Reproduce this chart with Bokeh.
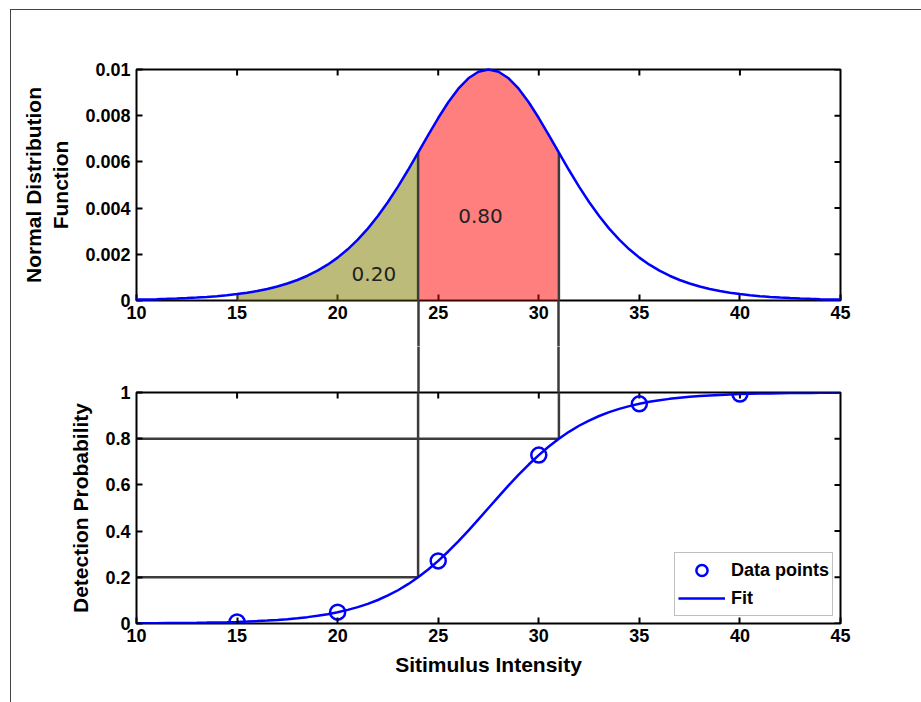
import math
from bokeh.plotting import figure
from bokeh.layouts import column
from bokeh.models import Range1d, FixedTicker, LinearAxis
from bokeh.embed import file_html
from bokeh.resources import INLINE
from bokeh.core.properties import value

# ---------------- data ----------------
x_grid = [10.0, 10.5, 11.0, 11.5, 12.0, 12.5, 13.0, 13.5, 14.0, 14.5,
          15.0, 15.5, 16.0, 16.5, 17.0, 17.5, 18.0, 18.5, 19.0, 19.5,
          20.0, 20.5, 21.0, 21.5, 22.0, 22.5, 23.0, 23.5, 24.0, 24.5,
          25.0, 25.5, 26.0, 26.5, 27.0, 27.5, 28.0, 28.5, 29.0, 29.5,
          30.0, 30.5, 31.0, 31.5, 32.0, 32.5, 33.0, 33.5, 34.0, 34.5,
          35.0, 35.5, 36.0, 36.5, 37.0, 37.5, 38.0, 38.5, 39.0, 39.5,
          40.0, 40.5, 41.0, 41.5, 42.0, 42.5, 43.0, 43.5, 44.0, 44.5, 45.0]

pdf_vals = [0.000039, 0.000048, 0.000058, 0.000071, 0.000086, 0.000105, 0.000128, 0.000155, 0.000189, 0.000230,
            0.000279, 0.000340, 0.000412, 0.000500, 0.000607, 0.000734, 0.000888, 0.001072, 0.001291, 0.001551,
            0.001857, 0.002217, 0.002632, 0.003111, 0.003654, 0.004263, 0.004931, 0.005649, 0.006400, 0.007161,
            0.007900, 0.008583, 0.009167, 0.009618, 0.009903, 0.010000, 0.009903, 0.009618, 0.009167, 0.008583,
            0.007900, 0.007161, 0.006400, 0.005649, 0.004931, 0.004263, 0.003654, 0.003111, 0.002632, 0.002217,
            0.001857, 0.001551, 0.001291, 0.001072, 0.000888, 0.000734, 0.000607, 0.000500, 0.000412, 0.000340,
            0.000279, 0.000230, 0.000189, 0.000155, 0.000128, 0.000105, 0.000086, 0.000071, 0.000058, 0.000048, 0.000039]

fit_vals = [0.00098, 0.00119, 0.00145, 0.00177, 0.00215, 0.00262, 0.00320, 0.00389, 0.00474, 0.00577,
            0.00703, 0.00856, 0.01041, 0.01267, 0.01540, 0.01871, 0.02271, 0.02755, 0.0334, 0.0404,
            0.0488, 0.0589, 0.0708, 0.0850, 0.1017, 0.1213, 0.1440, 0.1702, 0.2000, 0.2336,
            0.2709, 0.3118, 0.3557, 0.4023, 0.4507, 0.5000, 0.5493, 0.5977, 0.6443, 0.6882,
            0.7291, 0.7664, 0.8000, 0.8298, 0.8560, 0.8787, 0.8983, 0.9150, 0.9292, 0.9411,
            0.9512, 0.9596, 0.9666, 0.97245, 0.97729, 0.98129, 0.98460, 0.98733, 0.98959, 0.99144,
            0.99297, 0.99423, 0.99526, 0.99611, 0.99680, 0.99738, 0.99785, 0.99823, 0.99855, 0.99881, 0.99902]

data_x = [15, 20, 25, 30, 35, 40]
data_y = [0.007, 0.049, 0.271, 0.729, 0.951, 0.993]

fill_start = 15
cut_x = [24, 31]          # stimulus giving 20 % and 80 % detection
cut_p = [0.2, 0.8]        # detection probabilities
cut_pdf = [0.0064, 0.0064]

area_labels = ["0.20", "0.80"]
area_label_x = [21.8, 27.1]
area_label_y = [0.00113, 0.00366]

x_ticks = [10, 15, 20, 25, 30, 35, 40, 45]
x_tick_labels = ["10", "15", "20", "25", "30", "35", "40", "45"]
top_y_ticks = [0, 0.002, 0.004, 0.006, 0.008, 0.01]
top_y_tick_labels = ["0", "0.002", "0.004", "0.006", "0.008", "0.01"]
bot_y_ticks = [0, 0.2, 0.4, 0.6, 0.8, 1]
bot_y_tick_labels = ["0", "0.2", "0.4", "0.6", "0.8", "1"]

X0, X1 = 10, 45
TOP_Y0, TOP_Y1 = 0, 0.01
BOT_Y0, BOT_Y1 = 0, 1

# ---------------- styling ----------------
FONT = "Liberation Sans"
BLUE = "#0000FF"
GUIDE = "#3c3c3c"
W = 910
TICK = 6
GAP = 46
DOWN, LEFT = -math.pi / 2, math.pi


def style_axis(ax, ticks, labels, standoff):
    ax.ticker = FixedTicker(ticks=ticks, minor_ticks=[])
    ax.major_label_overrides = {t: l for t, l in zip(ticks, labels)}
    ax.axis_line_color = None
    ax.major_tick_in = TICK
    ax.major_tick_out = 0
    ax.major_tick_line_width = 2
    ax.major_tick_line_color = "black"
    ax.minor_tick_line_color = None
    ax.major_label_text_font = FONT
    ax.major_label_text_font_style = "bold"
    ax.major_label_text_color = "black"
    ax.major_label_standoff = standoff
    ax.major_label_text_font_size = "18px"
    ax.axis_label_text_font = FONT
    ax.axis_label_text_font_style = "bold"
    ax.axis_label_text_font_size = "21px"
    ax.axis_label_text_color = "black"


def guide_ticks(ax):
    # the guide lines crossing the gap between the panels are drawn as long minor ticks
    ax.ticker.minor_ticks = cut_x
    ax.minor_tick_in = 0
    ax.minor_tick_out = GAP
    ax.minor_tick_line_color = GUIDE
    ax.minor_tick_line_width = 2.5


def make_fig(height, top, bottom, y_range, y_ticks, y_labels, y_title):
    p = figure(width=W, height=height, output_backend="svg", toolbar_location=None,
               x_range=Range1d(X0, X1), y_range=y_range,
               min_border_left=125, min_border_right=81,
               min_border_top=top, min_border_bottom=bottom,
               background_fill_color="white", border_fill_color="white")
    p.outline_line_color = "black"
    p.outline_line_width = 2
    p.xgrid.visible = False
    p.ygrid.visible = False
    style_axis(p.xaxis[0], x_ticks, x_tick_labels, 5)
    style_axis(p.yaxis[0], y_ticks, y_labels, 6)
    p.yaxis[0].axis_label = y_title
    p.yaxis[0].axis_label_standoff = 10
    inner = x_ticks[1:-1]
    # mirrored inward ticks on the top and right edges
    p.ray(x=inner, y=[y_range.end] * len(inner), length=TICK, length_units="screen", angle=DOWN,
          line_color="black", line_width=2)
    p.ray(x=[X1] * len(y_ticks), y=y_ticks, length=TICK, length_units="screen", angle=LEFT,
          line_color="black", line_width=2)
    return p


# ---------------- top panel ----------------
p1 = make_fig(336, 59, GAP, Range1d(TOP_Y0, TOP_Y1), top_y_ticks, top_y_tick_labels,
              "Normal Distribution\nFunction")
guide_ticks(p1.xaxis[0])
# labels sit right under the panel, not after the long guide ticks
p1.xaxis[0].major_label_standoff = 5 - GAP

ol_x = [x for x in x_grid if fill_start <= x <= cut_x[0]]
ol_y = [y for x, y in zip(x_grid, pdf_vals) if fill_start <= x <= cut_x[0]]
rd_x = [x for x in x_grid if cut_x[0] <= x <= cut_x[1]]
rd_y = [y for x, y in zip(x_grid, pdf_vals) if cut_x[0] <= x <= cut_x[1]]
p1.varea(x=ol_x, y1=[0] * len(ol_x), y2=ol_y, fill_color="#7f7d00", fill_alpha=0.52, level="annotation")
p1.varea(x=rd_x, y1=[0] * len(rd_x), y2=rd_y, fill_color="#ff0000", fill_alpha=0.5, level="annotation")
p1.segment(x0=cut_x, y0=cut_pdf, x1=cut_x, y1=[TOP_Y0] * len(cut_x), line_color=GUIDE,
           line_width=2.5, level="annotation")
p1.line(x_grid, pdf_vals, line_color=BLUE, line_width=2.5, level="annotation")
p1.text(x=area_label_x, y=area_label_y, text=area_labels, text_font=value("DejaVu Sans"),
        text_font_size="20px", text_color="#222222", text_align="center", text_baseline="middle",
        level="annotation")

# ---------------- bottom panel ----------------
p2 = make_fig(356, GAP, 79, Range1d(BOT_Y0, BOT_Y1), bot_y_ticks, bot_y_tick_labels,
              "Detection Probability")
p2.xaxis[0].axis_label = "Sitimulus Intensity"
p2.xaxis[0].axis_label_standoff = 8

top_axis = LinearAxis(ticker=FixedTicker(ticks=[], minor_ticks=[]), major_tick_out=0, major_tick_in=0,
                      axis_line_color=None, major_label_text_font_size="18px")
guide_ticks(top_axis)
p2.add_layout(top_axis, "above")

p2.segment(x0=[X0] * len(cut_x), y0=cut_p, x1=cut_x, y1=cut_p, line_color=GUIDE, line_width=2.5)
p2.segment(x0=cut_x, y0=cut_p, x1=cut_x, y1=[BOT_Y1] * len(cut_x), line_color=GUIDE, line_width=2.5)

p2.line(x_grid, fit_vals, line_color=BLUE, line_width=2.5, legend_label="Fit")
p2.scatter(data_x, data_y, marker="circle", size=15, line_color=BLUE, line_width=2.5,
           fill_color=None, legend_label="Data points")

lg = p2.legend[0]
lg.items = [lg.items[1], lg.items[0]]
lg.location = "bottom_right"
lg.margin = 7
lg.padding = 3
lg.spacing = -4
lg.glyph_width = 47
lg.glyph_height = 28
lg.label_height = 28
lg.label_standoff = 6
lg.label_text_font = FONT
lg.label_text_font_style = "bold"
lg.label_text_font_size = "18px"
lg.label_text_color = "black"
lg.border_line_color = "#808080"
lg.border_line_width = 1
lg.background_fill_color = "white"
lg.background_fill_alpha = 1.0

layout = column(p1, p2, margin=(9, 0, 0, 10),
                styles={"border-top": "1px solid #444444", "border-left": "1px solid #444444"})
open("out.html", "w").write(file_html(layout, INLINE))
